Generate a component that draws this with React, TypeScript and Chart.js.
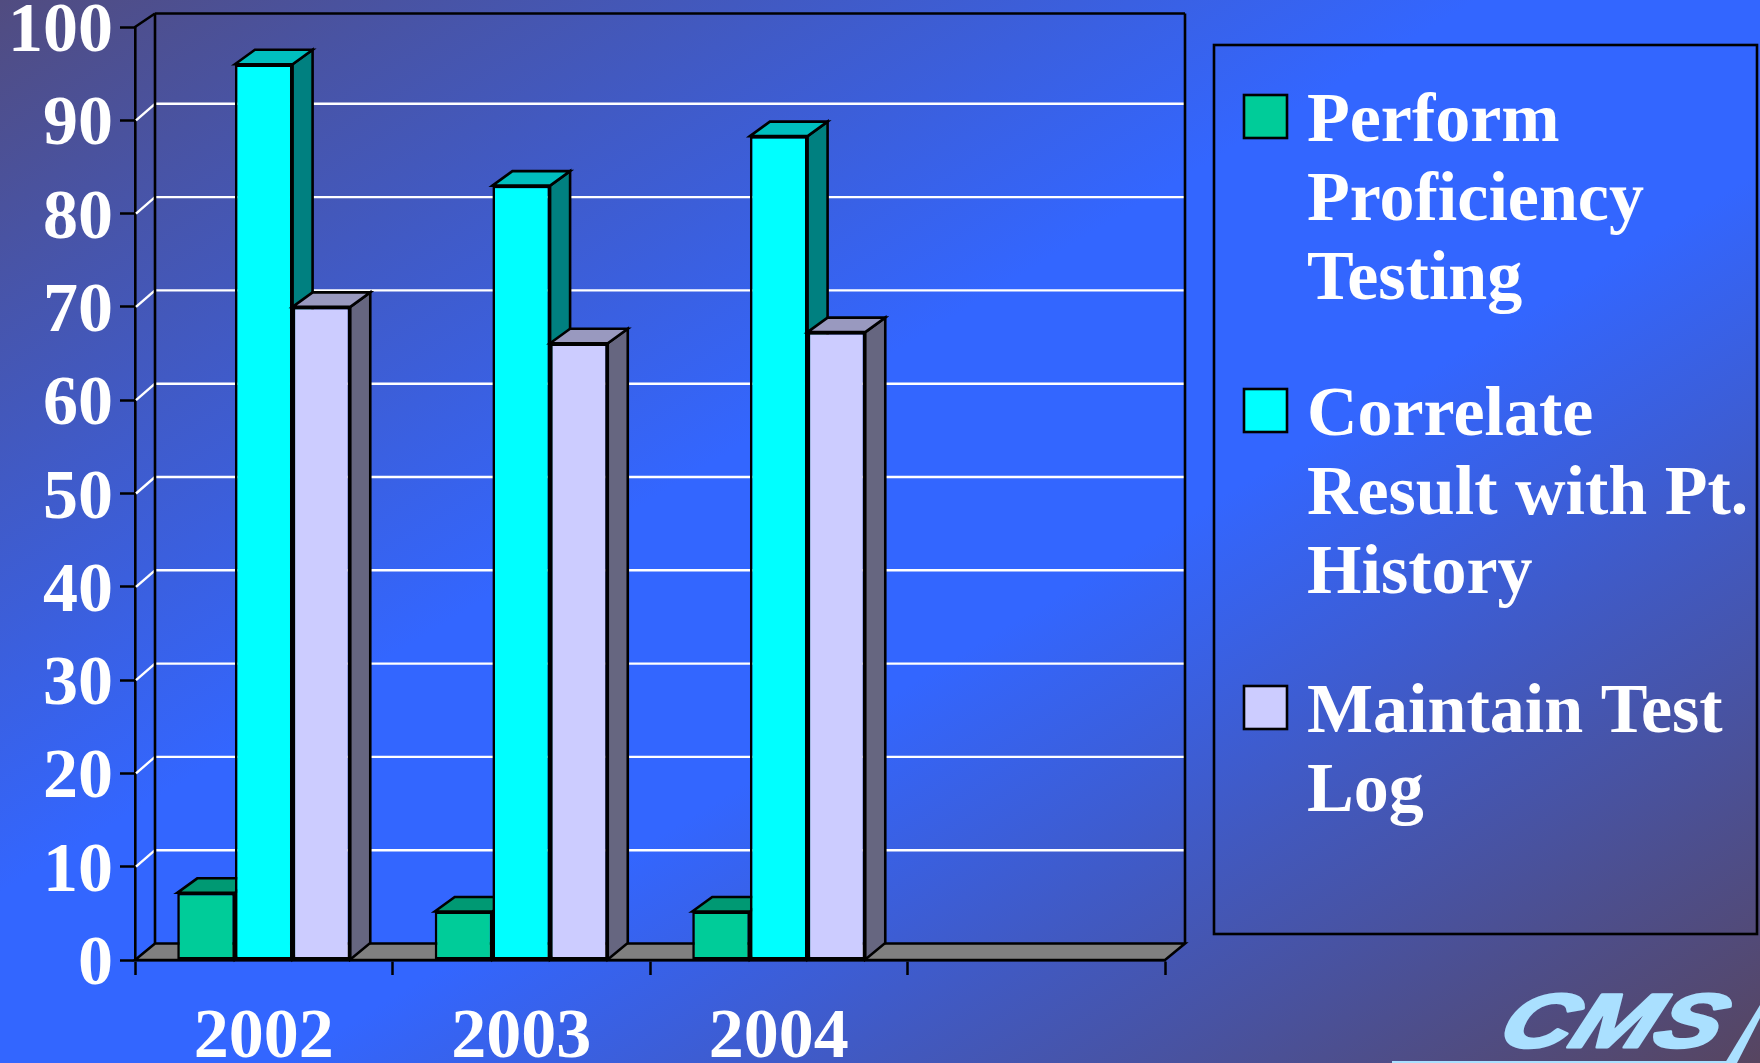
import React, { useEffect, useRef } from "react";
import { Chart, registerables } from "chart.js";

Chart.register(...registerables);

const categories = ["2002", "2003", "2004", ""];
const proficiencyValues = [7.2, 5.2, 5.2];
const correlateValues = [96, 83, 88.3];
const logValues = [70, 66.1, 67.3];
const proficiencyLines = ["Perform", "Proficiency", "Testing"];
const correlateLines = ["Correlate", "Result with Pt.", "History"];
const logLines = ["Maintain Test", "Log"];

const SERIF = '"Liberation Serif", "Times New Roman", serif';
const DX = 20;
const DY_GRID = 16.5;
const DY_BAR = 14.5;
const STROKE = 2.6;

const palettes = [
  { front: "#00cc99", top: "#009973", side: "#007a5c" },
  { front: "#00ffff", top: "#00bfbf", side: "#008080" },
  { front: "#ccccff", top: "#9999bf", side: "#666680" },
];

function poly(ctx: CanvasRenderingContext2D, pts: number[][], fill: string | null, stroke: string | null, lw = STROKE) {
  ctx.beginPath();
  pts.forEach((p, i) => (i ? ctx.lineTo(p[0], p[1]) : ctx.moveTo(p[0], p[1])));
  ctx.closePath();
  if (fill) {
    ctx.fillStyle = fill;
    ctx.fill();
  }
  if (stroke) {
    ctx.strokeStyle = stroke;
    ctx.lineWidth = lw;
    ctx.lineJoin = "miter";
    ctx.stroke();
  }
}

function line(ctx: CanvasRenderingContext2D, x1: number, y1: number, x2: number, y2: number, color: string, lw: number) {
  ctx.beginPath();
  ctx.moveTo(x1, y1);
  ctx.lineTo(x2, y2);
  ctx.strokeStyle = color;
  ctx.lineWidth = lw;
  ctx.stroke();
}

const wallsPlugin = {
  id: "walls",
  beforeDatasetsDraw(chart: any) {
    const { ctx, chartArea, scales } = chart;
    const { left, right, bottom, top } = chartArea;
    const y = scales.y;
    ctx.save();
    for (let v = 10; v <= 90; v += 10) {
      const py = y.getPixelForValue(v);
      line(ctx, left + 1, py, left + DX, py - DY_GRID, "#ffffff", 2.4);
      line(ctx, left + DX, py - DY_GRID, right + DX, py - DY_GRID, "#ffffff", 2.4);
    }
    const backTop = top - 13.5;
    const backBottom = bottom - DY_GRID;
    poly(ctx, [[left, bottom], [left + DX, backBottom], [right + DX, backBottom], [right, bottom]], "#808080", "#000000");
    line(ctx, left, top, left + DX, backTop, "#000000", STROKE);
    line(ctx, left + DX, backTop, right + DX, backTop, "#000000", STROKE);
    line(ctx, left + DX, backTop, left + DX, backBottom, "#000000", STROKE);
    line(ctx, right + DX, backTop, right + DX, backBottom, "#000000", STROKE);

    // Bars are painted back to front: first series first, each with its depth faces.
    chart.getSortedVisibleDatasetMetas().forEach((meta: any) => {
      const pal = palettes[meta.index];
      meta.data.forEach((bar: any) => {
        const { x, y: by, base, width } = bar.getProps(["x", "y", "base", "width"], true);
        const l = x - width / 2;
        const r = x + width / 2;
        poly(ctx, [[r, by], [r + DX, by - DY_BAR], [r + DX, base - DY_GRID], [r, base]], pal.side, "#000000");
        poly(ctx, [[l, by], [l + DX, by - DY_BAR], [r + DX, by - DY_BAR], [r, by]], pal.top, "#000000");
      });
      meta.controller.draw();
    });
    ctx.restore();
    return false;
  },
};

const legendPlugin = {
  id: "sideLegend",
  afterDraw(chart: any) {
    const { ctx } = chart;
    ctx.save();
    ctx.strokeStyle = "#000000";
    ctx.lineWidth = STROKE;
    ctx.strokeRect(1214, 45, 543, 889);
    const groups = [
      { lines: proficiencyLines, swatch: 95, baseline: 140.5 },
      { lines: correlateLines, swatch: 389, baseline: 435 },
      { lines: logLines, swatch: 686, baseline: 732 },
    ];
    groups.forEach((g, i) => {
      ctx.fillStyle = palettes[i].front;
      ctx.fillRect(1244, g.swatch, 43, 43);
      ctx.strokeRect(1244, g.swatch, 43, 43);
      ctx.fillStyle = "#ffffff";
      ctx.font = `bold 70px ${SERIF}`;
      ctx.textAlign = "left";
      ctx.textBaseline = "alphabetic";
      g.lines.forEach((t, j) => ctx.fillText(t, 1307, g.baseline + j * 79));
    });
    ctx.restore();
  },
};

const logoPlugin = {
  id: "logo",
  afterDraw(chart: any) {
    const { ctx } = chart;
    const color = "#aae0ff";
    ctx.save();
    ctx.fillStyle = color;
    ctx.fillRect(1392, 1061, 336, 2);
    poly(ctx, [[1725, 1063], [1760, 1005], [1760, 1018], [1737, 1063]], color, null);
    ctx.translate(1495, 1047);
    ctx.transform(1.3, 0, -0.4, 1, 0, 0);
    ctx.font = 'italic bold 76px "Liberation Sans", Arial, sans-serif';
    ctx.textAlign = "left";
    ctx.textBaseline = "alphabetic";
    ctx.strokeStyle = color;
    ctx.lineWidth = 3;
    ctx.lineJoin = "round";
    ctx.strokeText("CMS", 0, 0);
    ctx.fillText("CMS", 0, 0);
    ctx.restore();
  },
};

export default function App() {
  const ref = useRef<HTMLCanvasElement>(null);
  useEffect(() => {
    document.body.style.margin = "0";
    const tickFont = { family: SERIF, size: 70, weight: "bold" as const };
    const common = {
      borderColor: "#000000",
      borderWidth: STROKE,
      borderSkipped: false,
      categoryPercentage: 0.672,
      barPercentage: 1,
      clip: false,
    };
    const chart = new Chart(ref.current!, {
      type: "bar",
      data: {
        labels: categories,
        datasets: [
          { label: proficiencyLines.join(" "), data: proficiencyValues, backgroundColor: palettes[0].front, ...common },
          { label: correlateLines.join(" "), data: correlateValues, backgroundColor: palettes[1].front, ...common },
          { label: logLines.join(" "), data: logValues, backgroundColor: palettes[2].front, ...common },
        ] as any,
      },
      options: {
        responsive: false,
        animation: false,
        layout: { padding: { top: 27, right: 595, left: 0, bottom: 0 } },
        plugins: { legend: { display: false }, tooltip: { enabled: false }, title: { display: false } },
        scales: {
          x: {
            afterFit: (s: any) => { s.height = 103; s.paddingLeft = 0; s.paddingRight = 0; },
            grid: { drawOnChartArea: false, drawTicks: true, tickLength: 15, tickColor: "#000000", tickWidth: 2.5, offset: true },
            border: { display: true, color: "#000000", width: STROKE },
            ticks: { color: "#ffffff", font: tickFont, padding: 22, maxRotation: 0, autoSkip: false },
          },
          y: {
            min: 0,
            max: 100,
            afterFit: (s: any) => { s.width = 135; s.paddingTop = 0; s.paddingBottom = 0; },
            grid: { drawOnChartArea: false, drawTicks: true, tickLength: 15, tickColor: "#000000", tickWidth: 2.5 },
            border: { display: true, color: "#000000", width: STROKE },
            ticks: { color: "#ffffff", font: tickFont, padding: 7, labelOffset: 6, stepSize: 10 },
          },
        },
      },
      plugins: [wallsPlugin, legendPlugin, logoPlugin],
    } as any);
    return () => chart.destroy();
  }, []);
  return (
    <div
      style={{
        position: "absolute",
        left: 0,
        top: 0,
        width: 1760,
        height: 1063,
        overflow: "hidden",
        background: "linear-gradient(to bottom right, #514c80 0%, #3366ff 42%, #3366ff 58%, #574560 100%)",
      }}
    >
      <canvas ref={ref} width={1760} height={1063} style={{ display: "block" }} />
    </div>
  );
}
